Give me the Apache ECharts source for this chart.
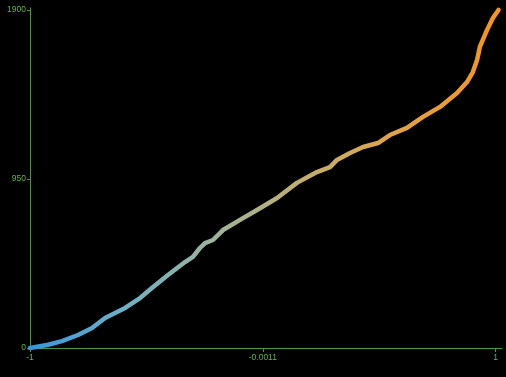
<!DOCTYPE html>
<html>
<head>
<meta charset="utf-8">
<script src="https://cdn.jsdelivr.net/npm/echarts@6/dist/echarts.min.js"></script>
<style>
  html, body { margin: 0; padding: 0; background: #000; }
  #chart { width: 506px; height: 377px; }
</style>
</head>
<body>
<div id="chart"></div>
<script>
// values (sorted value vs. rank)
const xValues = [-1.000, -0.927, -0.863, -0.794, -0.734, -0.678, -0.592, -0.528, -0.477, -0.408,
  -0.335, -0.301, -0.271, -0.249, -0.215, -0.172, -0.099, -0.026, 0.060, 0.145,
  0.231, 0.287, 0.317, 0.373, 0.429, 0.493, 0.544, 0.617, 0.686, 0.759,
  0.832, 0.875, 0.900, 0.918, 0.930, 0.961, 0.986, 1.010];
const yValues = [0, 17, 39, 73, 112, 169, 225, 281, 337, 410,
  483, 512, 562, 590, 607, 663, 720, 776, 843, 928,
  989, 1017, 1057, 1096, 1130, 1152, 1197, 1237, 1299, 1355,
  1433, 1495, 1551, 1619, 1692, 1788, 1855, 1900];
const xTicks = [-1, -0.0011, 0.9978];
const xTickLabels = ['-1', '-0.0011', '1'];
const yTicks = [0, 950, 1900];

const chart = echarts.init(document.getElementById('chart'));

const axisGreen = '#46983c';
const labelGreen = '#5fb848';

chart.setOption({
  backgroundColor: '#000000',
  animation: false,
  grid: { left: 30, right: 4, top: 8, bottom: 29 },
  visualMap: {
    show: false,
    type: 'continuous',
    dimension: 0,
    min: -1,
    max: 1,
    inRange: { color: ['#3596dc', '#6db0c6', '#9fb39a', '#c4ae6c', '#e3a244', '#f5951c'] },
  },
  xAxis: {
    type: 'value',
    min: -1,
    max: 1.025,
    splitLine: { show: false },
    axisLine: { onZero: false, lineStyle: { color: axisGreen, width: 1 } },
    axisTick: { show: true, length: 4, customValues: xTicks, lineStyle: { color: axisGreen } },
    axisLabel: {
      customValues: xTicks,
      color: labelGreen,
      fontFamily: 'Liberation Sans',
      fontSize: 8.5,
      margin: 5,
      formatter: (v) => xTickLabels[xTicks.indexOf(v)],
    },
  },
  yAxis: {
    type: 'value',
    min: 0,
    max: 1911,
    splitLine: { show: false },
    axisLine: { show: true, onZero: false, lineStyle: { color: axisGreen, width: 1 } },
    axisTick: { show: true, length: 3, customValues: yTicks, lineStyle: { color: axisGreen } },
    axisLabel: {
      customValues: yTicks,
      color: labelGreen,
      fontFamily: 'Liberation Sans',
      fontSize: 8.5,
      margin: 4,
      formatter: (v) => String(v),
    },
  },
  series: [{
    type: 'line',
    data: xValues.map((x, i) => [x, yValues[i]]),
    showSymbol: false,
    lineStyle: { width: 4.5, cap: 'round', join: 'round' },
  }],
});
</script>
</body>
</html>
